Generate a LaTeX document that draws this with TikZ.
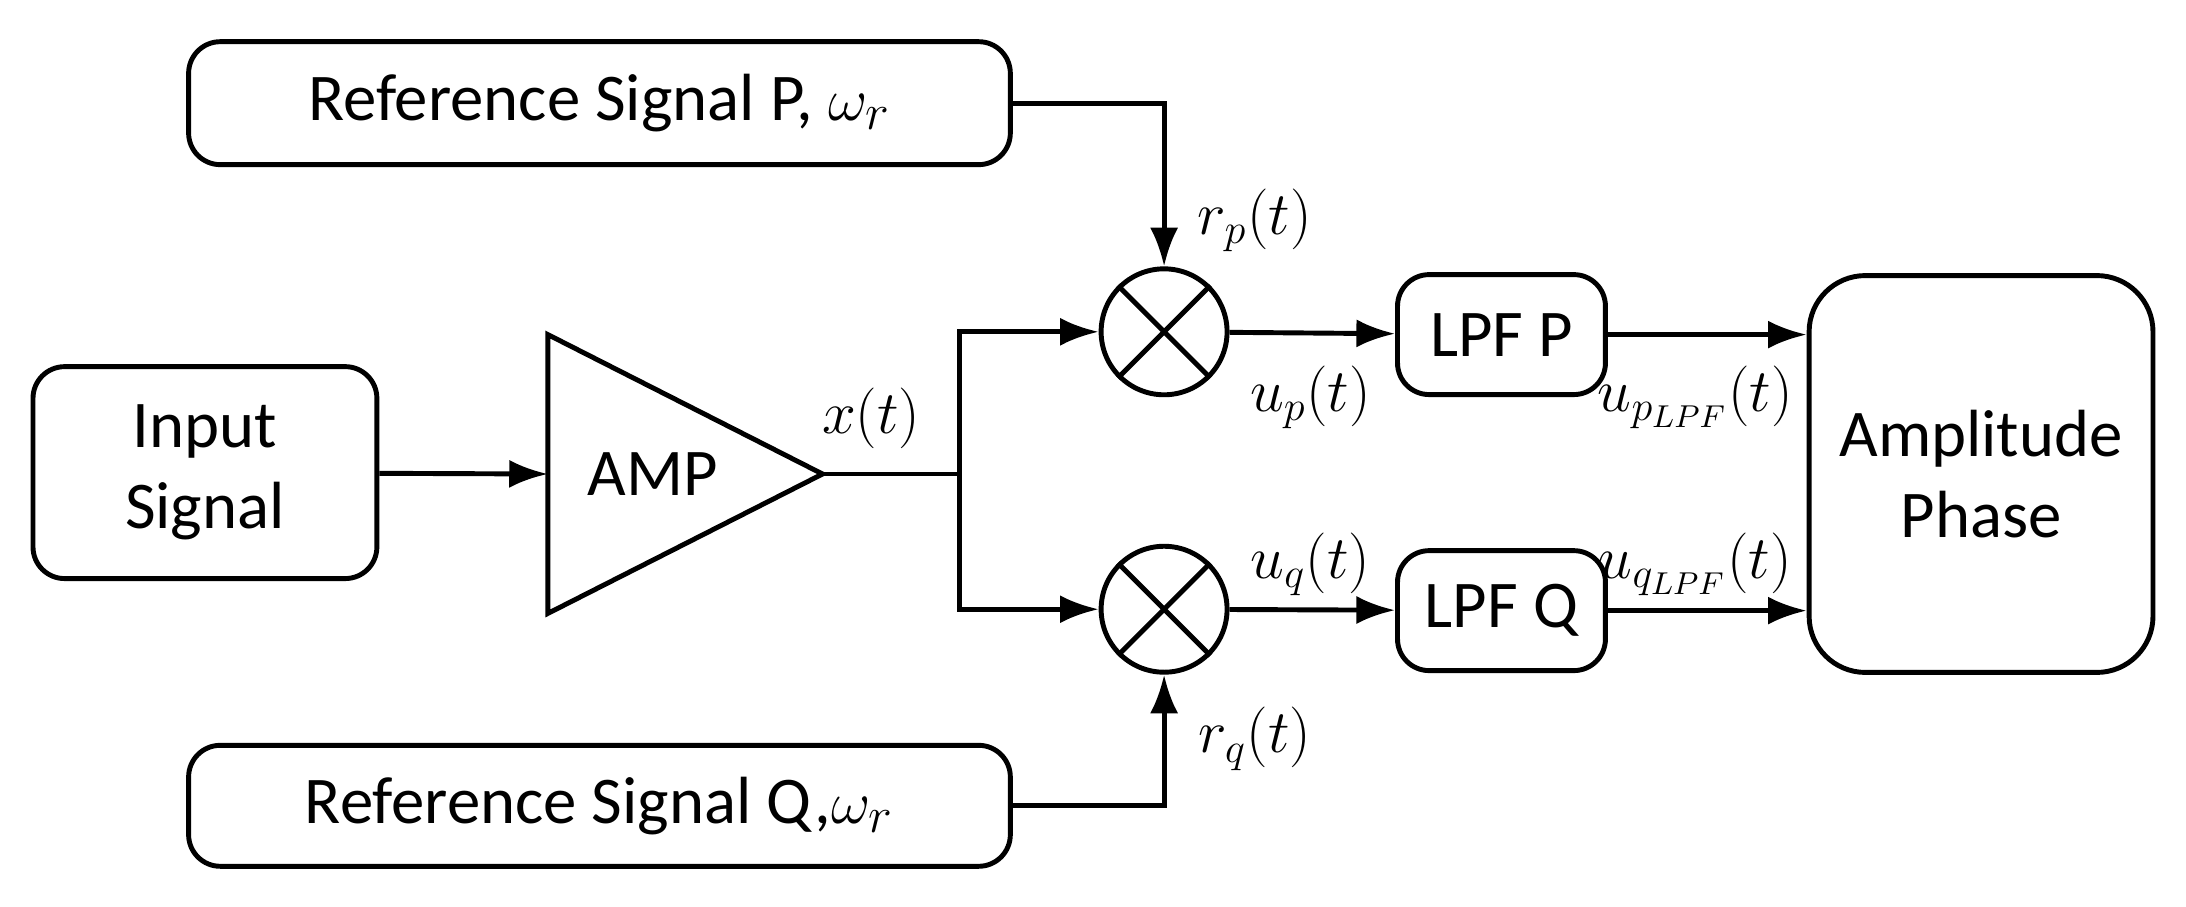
\documentclass[tikz,border=0pt]{standalone}
\usepackage{fontspec}
\setmainfont{Carlito}
\usetikzlibrary{shapes.geometric,arrows.meta,positioning,calc}

\begin{document}
\begin{tikzpicture}[
    x=0.01394cm, y=-0.01394cm,
    box/.style={rectangle, draw, line width=1.4pt, rounded corners=9pt, text centered, align=center, font=\fontsize{19}{23}\selectfont},
    mixer/.style={circle, draw, line width=1.4pt, minimum size=1.26cm, inner sep=0pt},
    arrow/.style={-{Latex[length=11pt,width=8pt]}, line width=1.4pt},
    line/.style={line width=1.4pt},
    label/.style={font=\fontsize{18}{20}\selectfont}
]
\useasboundingbox (0,0) rectangle (1568,650);

% Boxes
\node[box, minimum width=8.22cm, minimum height=1.23cm] (refp) at (430,74) {Reference Signal P, $\omega_r$};
\node[box, minimum width=8.22cm, minimum height=1.21cm] (refq) at (430,578) {Reference Signal Q,$\omega_r$};
\node[box, minimum width=3.44cm, minimum height=2.12cm] (input) at (147,339) {Input\\Signal};
\node[box, minimum width=2.08cm, minimum height=1.2cm] (lpfp) at (1077,240) {LPF P};
\node[box, minimum width=2.08cm, minimum height=1.2cm] (lpfq) at (1077,438) {LPF Q};
\node[box, minimum width=3.44cm, minimum height=3.97cm, rounded corners=16pt] (out) at (1421,340) {Amplitude\\Phase};

% Amplifier
\coordinate (ampin) at (393,340);
\coordinate (ampout) at (590,340);
\draw[line, line join=miter] (393,240) -- (ampout) -- (393,440) -- cycle;
\node[font=\fontsize{19}{23}\selectfont] (amp) at (468,340) {AMP};

% Mixers
\node[mixer] (mp) at (835,238) {};
\node[mixer] (mq) at (835,437) {};
\foreach \m in {mp,mq} {
  \draw[line] (\m.north east) -- (\m.south west);
  \draw[line] (\m.north west) -- (\m.south east);
}

% Junction
\coordinate (jn) at (688,340);

% Connectors
\draw[arrow] (input) -- (ampin);
\draw[line] (ampout) -- (jn);
\draw[arrow] (jn) |- (mp.west);
\draw[arrow] (jn) |- (mq.west);
\draw[arrow] (refp.east) -| (mp.north);
\draw[arrow] (refq.east) -| (mq.south);
\draw[arrow] (mp) -- (lpfp);
\draw[arrow] (mq) -- (lpfq);
\draw[arrow] (lpfp) -- (lpfp -| out.west);
\draw[arrow] (lpfq) -- (lpfq -| out.west);

% Labels
\node[label] at (625,300) {$x(t)$};
\node[label] at (900,158) {$r_p(t)$};
\node[label] at (900,530) {$r_q(t)$};
\node[label] at (940,285) {$u_p(t)$};
\node[label] at (940,405) {$u_q(t)$};
\node[label] at (1216,285) {$u_{p_{LPF}}(t)$};
\node[label] at (1216,405) {$u_{q_{LPF}}(t)$};

\end{tikzpicture}
\end{document}
